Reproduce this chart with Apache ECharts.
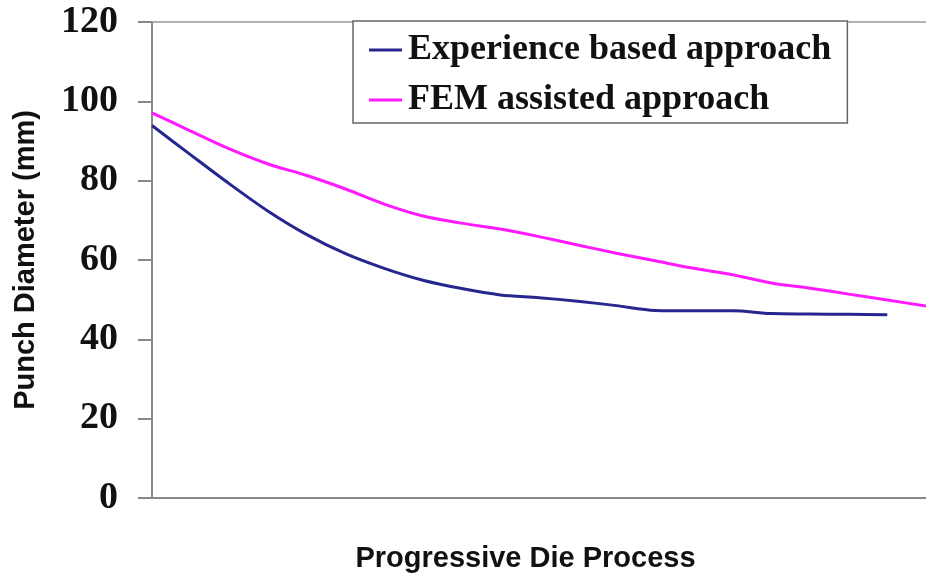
<!DOCTYPE html>
<html>
<head>
<meta charset="utf-8">
<script src="https://cdn.jsdelivr.net/npm/echarts@6/dist/echarts.min.js"></script>
<style>
  html, body { margin: 0; padding: 0; background: #fff; }
  #chart { width: 926px; height: 578px; }
</style>
</head>
<body>
<div id="chart"></div>
<script>
// process stages along the x axis (no labels shown on the original)
const stages = ['1', '2', '3', '4', '5', '6', '7', '8', '9', '10', '11', '12', '13', '14', '15', '16', '17', '18', '19', '20', '21'];

// punch diameter (mm)
const experienceBased = [93.9, 86.5, 79.2, 72.3, 66.4, 61.6, 57.9, 54.9, 52.8, 51.2, 50.5, 49.6, 48.5, 47.3, 47.2, 47.2, 46.5, 46.4, 46.3, 46.2];
const femAssisted = [97.1, 92.5, 88.0, 84.2, 81.3, 77.9, 74.1, 71.1, 69.3, 67.8, 65.9, 63.8, 61.7, 59.8, 57.9, 56.3, 54.2, 52.9, 51.4, 49.9, 48.4];

const yTicks = [0, 20, 40, 60, 80, 100, 120];

const chart = echarts.init(document.getElementById('chart'));
chart.setOption({
  animation: false,
  backgroundColor: '#ffffff',
  grid: {
    left: 152,
    right: 0,
    top: 22,
    bottom: 76,
  },
  legend: {
    orient: 'vertical',
    left: 353,
    top: 21,
    padding: [9, 16, 3, 16],
    itemGap: 10,
    itemWidth: 33,
    itemHeight: 3,
    icon: 'rect',
    backgroundColor: '#ffffff',
    borderColor: '#666',
    borderWidth: 1.5,
    textStyle: {
      fontFamily: 'Liberation Serif',
      fontWeight: 'bold',
      fontSize: 36,
      lineHeight: 40,
      color: '#111',
      padding: [0, 0, 0, 1],
    },
    data: ['Experience based approach', 'FEM assisted approach'],
  },
  xAxis: [
    {
      type: 'category',
      data: stages,
      boundaryGap: false,
      name: 'Progressive Die Process',
      nameLocation: 'middle',
      nameGap: 46,
      nameTextStyle: {
        fontFamily: 'Liberation Sans',
        fontWeight: 'bold',
        fontSize: 29,
        color: '#111',
        padding: [0, 27, 0, 0],
      },
      axisLine: { lineStyle: { color: '#888', width: 2 } },
      axisTick: { show: false },
      axisLabel: { show: false },
      splitLine: { show: false },
    },
    {
      type: 'category',
      data: stages,
      boundaryGap: false,
      position: 'top',
      axisLine: { lineStyle: { color: '#999', width: 1.5 } },
      axisTick: { show: false },
      axisLabel: { show: false },
    },
  ],
  yAxis: {
    type: 'value',
    min: yTicks[0],
    max: yTicks[yTicks.length - 1],
    interval: 20,
    name: 'Punch Diameter (mm)',
    nameLocation: 'middle',
    nameGap: 112,
    nameTextStyle: {
      fontFamily: 'Liberation Sans',
      fontWeight: 'bold',
      fontSize: 29,
      color: '#111',
    },
    axisLine: { show: true, lineStyle: { color: '#888', width: 2 } },
    axisTick: { show: true, inside: false, length: 14, lineStyle: { color: '#888', width: 2 } },
    axisLabel: {
      margin: 34,
      fontFamily: 'Liberation Serif',
      fontWeight: 'bold',
      fontSize: 38,
      color: '#111',
    },
    splitLine: { show: false },
  },
  series: [
    {
      name: 'Experience based approach',
      type: 'line',
      data: experienceBased,
      smooth: 0.3,
      symbol: 'none',
      color: '#26268f',
      lineStyle: { color: '#26268f', width: 3 },
    },
    {
      name: 'FEM assisted approach',
      type: 'line',
      data: femAssisted,
      smooth: 0.3,
      symbol: 'none',
      color: '#ff1aff',
      lineStyle: { color: '#ff1aff', width: 3 },
    },
  ],
});
</script>
</body>
</html>
